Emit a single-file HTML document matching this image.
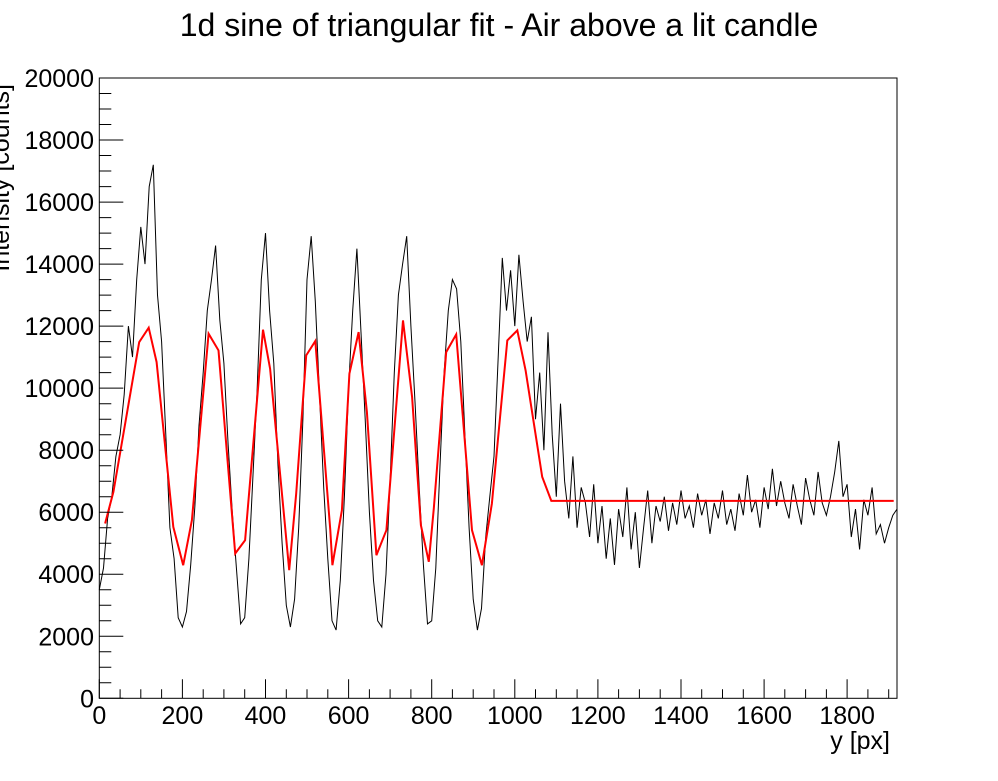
<!DOCTYPE html>
<html><head><meta charset="utf-8"><style>
html,body{margin:0;padding:0;background:#fff;}
svg text{font-family:"Liberation Sans",sans-serif;}
</style></head><body>
<svg id="chart" width="998" height="776" xmlns="http://www.w3.org/2000/svg">
<rect x="0" y="0" width="998" height="776" fill="#fff"/>
<text x="499" y="36" font-size="32" text-anchor="middle">1d sine of triangular fit - Air above a lit candle</text>
<g id="plot"></g>
<g id="axes"></g>
<text x="890" y="749" font-size="25" text-anchor="end">y [px]</text>
<text transform="translate(9,84) rotate(-90)" font-size="25" text-anchor="end">Intensity [counts]</text>
</svg>
<script>
const dataX0 = 0, dataStep = 10;
const intensity = [3500,4200,5800,6500,7800,8500,9800,12000,11000,13500,15200,14000,16500,17200,13000,11500,8500,5500,4500,2600,
2300,2800,4300,6200,8800,10500,12500,13500,14600,12200,10800,8200,6000,4200,2400,2600,4500,7200,10000,13500,
15000,12500,10800,7500,5000,3000,2300,3200,5500,9000,13500,14900,12800,9800,6800,4500,2500,2200,3800,6500,
10000,12500,14500,11800,9000,6000,3800,2500,2300,4000,7000,10500,13000,14000,14900,12000,9500,6800,4300,2400,
2500,4200,7500,10500,12500,13500,13200,11500,8500,5500,3200,2200,2900,5200,6500,7800,11000,14200,12500,13800,
12000,14300,12800,11500,12300,9000,10500,8000,11800,8500,6500,9500,7000,5800,7800,5500,6800,6300,5200,6900,
5000,6200,4500,5800,4300,6100,5200,6800,4800,6000,4200,5500,6700,5000,6200,5700,6500,5400,6300,5600,
6700,5800,6200,5500,6600,5900,6400,5300,6300,5800,6700,5600,6100,5400,6600,5900,7200,6000,6400,5500,
6800,6100,7400,6200,7000,6300,5800,6900,6200,5600,7100,6400,5900,7300,6300,5900,6500,7300,8300,6500,
6900,5200,6100,4800,6400,5900,6800,5300,5600,5000,5500,5900,6100];
const fitX = [14,34,96,119,138,178,202,223,263,287,327,351,394,411,457,474,498,520,556,561,584,602,624,644,667,691,731,753,774,793,805,835,859,897,921,945,982,1006,1026,1066,1088,1912];
const fitY = [5636,6654,11485,11948,10840,5527,4293,5742,11755,11217,4670,5098,11884,10628,4132,6602,11056,11517,5420,4293,6065,10466,11807,9230,4615,5420,12184,9713,5581,4400,6119,11163,11733,5420,4293,6280,11539,11862,10573,7137,6364,6364];
const xTicks = [0,200,400,600,800,1000,1200,1400,1600,1800];
const yTicks = [0,2000,4000,6000,8000,10000,12000,14000,16000,18000,20000];

const X0=99.3, X1=897, Y0=698.3, Y1=78, XMAX=1920, YMAX=20000;
const sx = v => X0 + (v/XMAX)*(X1-X0);
const sy = v => Y0 - (v/YMAX)*(Y0-Y1);
const NS='http://www.w3.org/2000/svg';
const plot=document.getElementById('plot'), axes=document.getElementById('axes');
function mk(tag, attrs, parent){const e=document.createElementNS(NS,tag);for(const k in attrs)e.setAttribute(k,attrs[k]);parent.appendChild(e);return e;}

let d='';
intensity.forEach((v,i)=>{d+=(i?'L':'M')+sx(dataX0+i*dataStep).toFixed(1)+','+sy(v).toFixed(1);});
const dl=mk('path',{d:d,fill:'none',stroke:'#000','stroke-width':1},plot);



let f='';
fitX.forEach((x,i)=>{f+=(i?'L':'M')+sx(x).toFixed(1)+','+sy(fitY[i]).toFixed(1);});
const fl=mk('path',{d:f,fill:'none',stroke:'#ff0000','stroke-width':2},plot);



const fr=mk('rect',{x:X0,y:Y1,width:X1-X0,height:Y0-Y1,fill:'none',stroke:'#000','stroke-width':1},axes);



let t='';
for(let v=0;v<=XMAX;v+=50){const len=(v%200===0)?19:9;const x=sx(v);t+='M'+x.toFixed(1)+','+Y0+'V'+(Y0-len);}
for(let v=0;v<=YMAX;v+=500){const len=(v%2000===0)?24:12;const y=sy(v);t+='M'+X0+','+y.toFixed(1)+'H'+(X0+len);}
const tk=mk('path',{d:t,stroke:'#000','stroke-width':1,fill:'none'},axes);



xTicks.forEach(v=>{
  const e=mk('text',{x:sx(v),y:724,'font-size':25,'text-anchor':'middle'},axes);
  e.textContent=String(v);
  
  
});
yTicks.forEach(v=>{
  const e=mk('text',{x:94,y:sy(v)+9,'font-size':25,'text-anchor':'end'},axes);
  e.textContent=String(v);
  
  
});
</script>
</body></html>
